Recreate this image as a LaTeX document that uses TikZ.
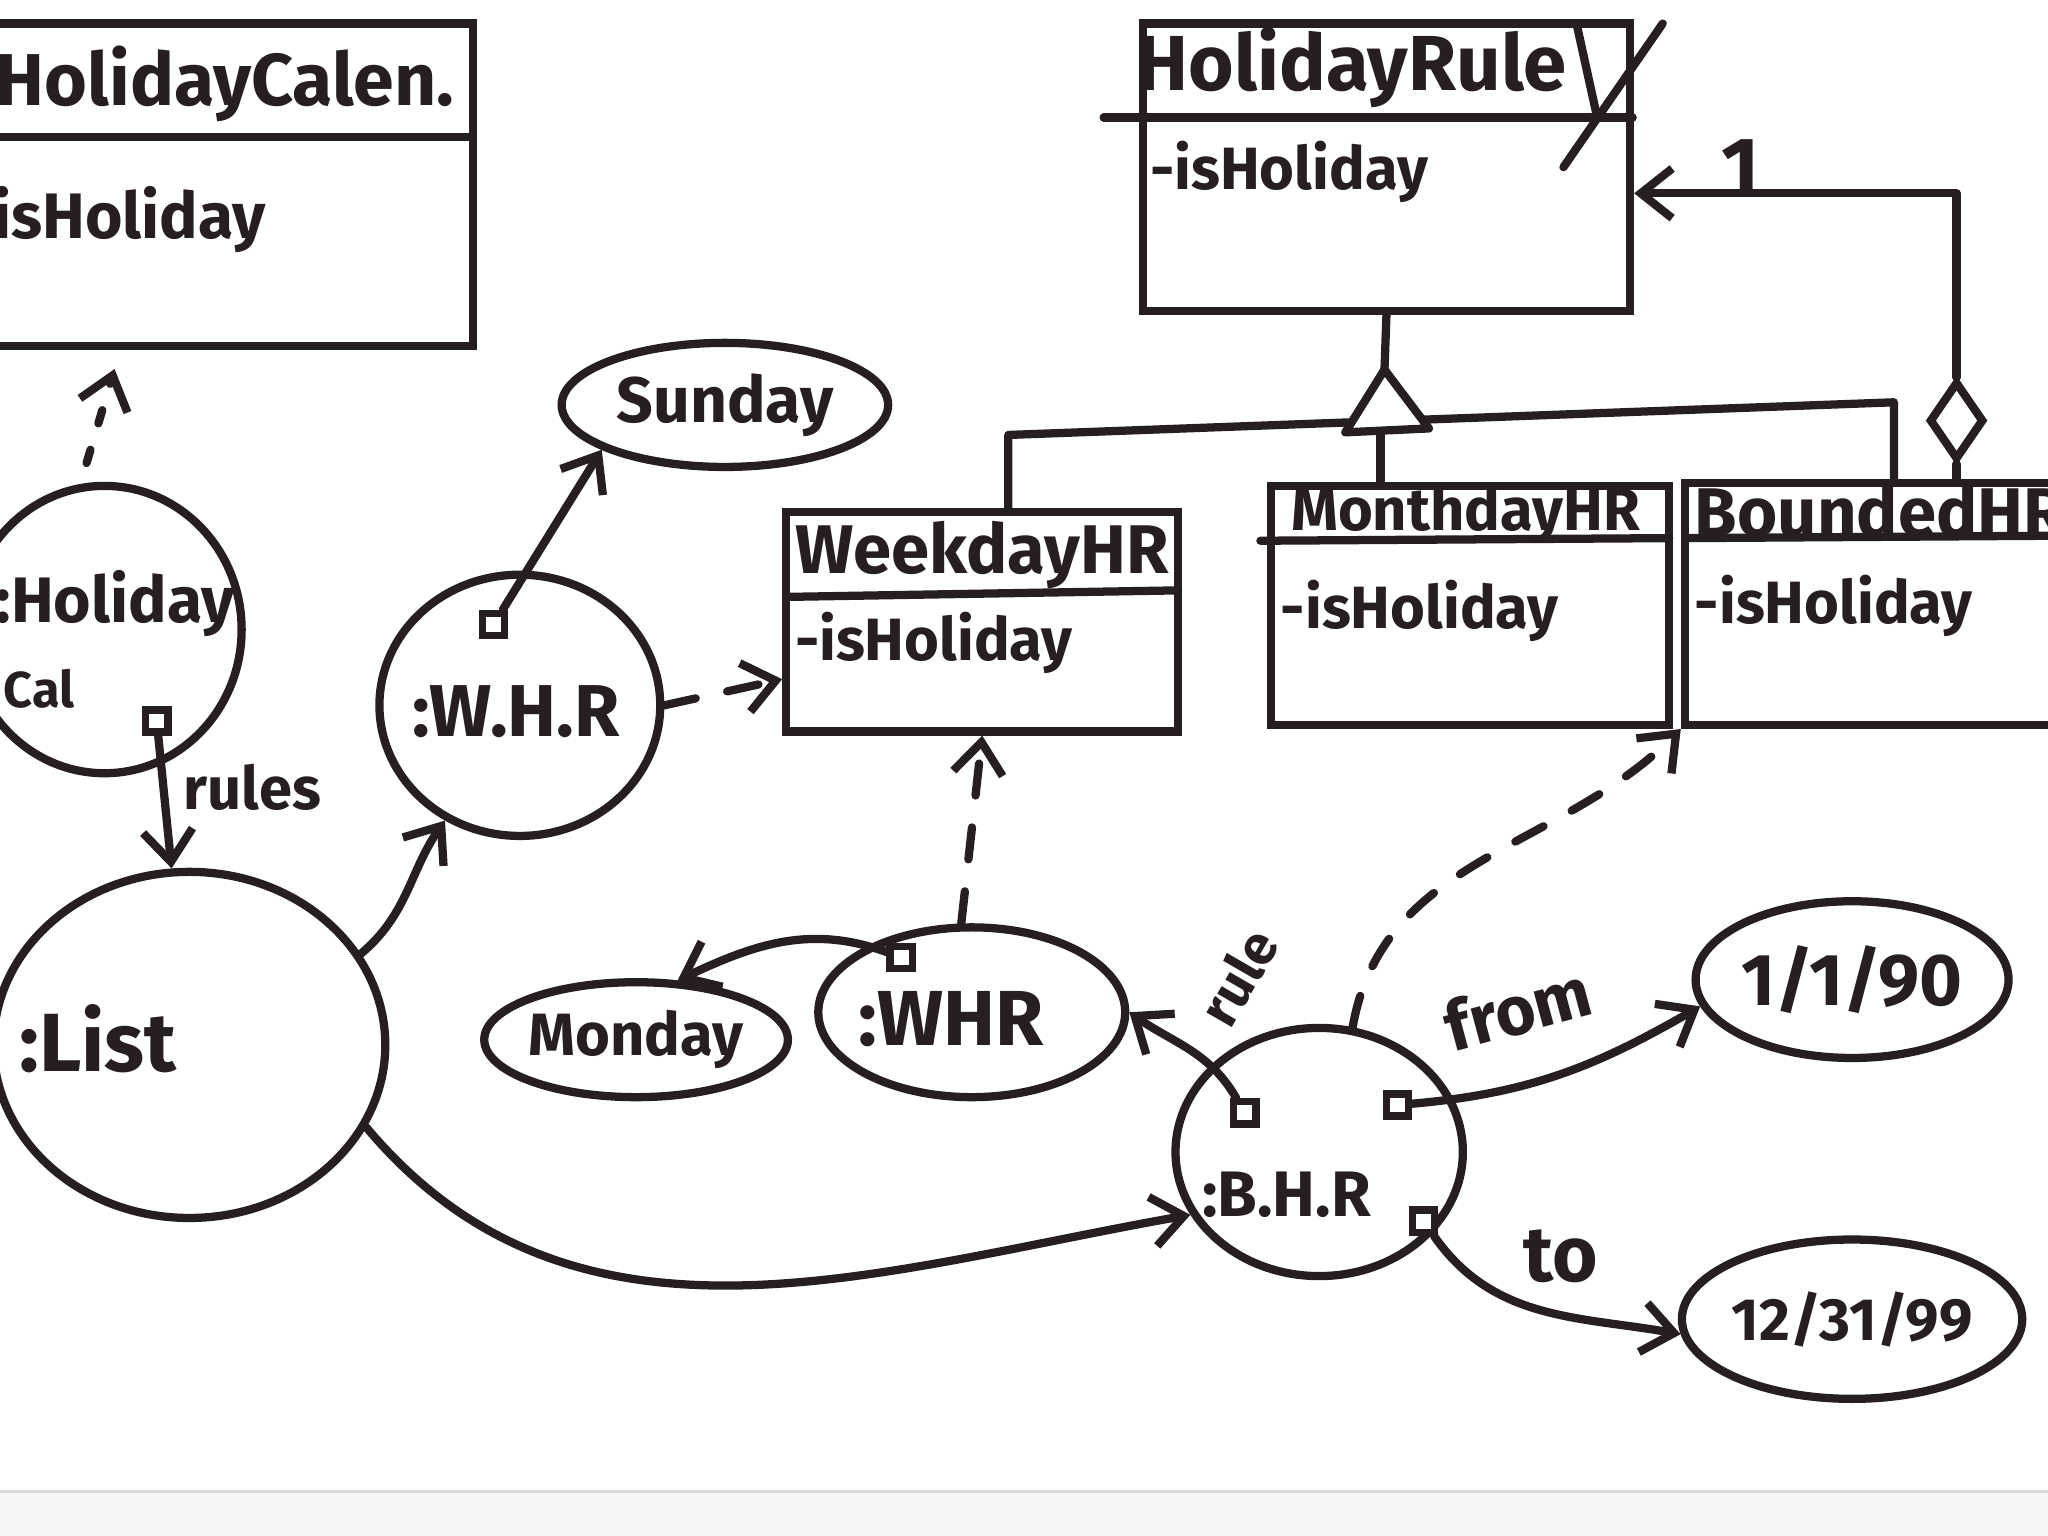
\documentclass[tikz,border=0pt]{standalone}
\usepackage{fontspec}
\setmainfont{Fira Sans}
\usetikzlibrary{shapes.geometric,arrows.meta}
\definecolor{ink}{RGB}{38,30,34}
\newcommand\myfs[1]{\fontsize{#1}{#1}\selectfont}
\begin{document}
\begin{tikzpicture}[x=0.1mm,y=-0.1mm,
  pen/.style={draw=ink,line width=1.8pt,line cap=round,line join=round},
  cls/.style={rectangle,draw=ink,line width=1.8pt,inner sep=0pt},
  obj/.style={ellipse,draw=ink,line width=1.8pt,inner sep=0pt,text=ink},
  port/.style={rectangle,draw=ink,line width=1.6pt,fill=white,minimum size=1.7mm,inner sep=0pt},
  txt/.style={text=ink,inner sep=0pt},
  nav/.style={pen,-{Straight Barb[length=2.4mm,width=3.8mm]}},
  dep/.style={nav,dash pattern=on 7pt off 7pt},
  dotd/.style={nav,dash pattern=on 3pt off 6pt},
  font=\bfseries
]
\useasboundingbox (0,0) rectangle (1568,1176);
\clip (0,0) rectangle (1568,1176);
\fill[white] (0,0) rectangle (1568,1176);
\fill[black!4] (0,1142) rectangle (1568,1176);
\draw[black!15,line width=0.8pt] (0,1142) -- (1568,1142);

\coordinate (c92) at (92,0);
% ---------- class boxes ----------
\node[cls,minimum width=38.2mm,minimum height=24.7mm] (calbox) at (171,141.5) {};
\draw[pen] (-20,105) -- (362,105);
\node[txt,anchor=west,font=\bfseries\myfs{16}] (calt) at (-4,64) {HolidayCalen.};
\node[txt,anchor=west,font=\bfseries\myfs{14}] (cala) at (-6,168) {isHoliday};

\node[cls,minimum width=37.3mm,minimum height=22mm] (rulebox) at (1061.5,128) {};
\draw[pen] (845,90) -- (1250,90);
\node[txt,font=\bfseries\myfs{17}] (rulet) at (1035,52) {HolidayRule};
\draw[pen] (1207,18) -- (1222,86);
\draw[pen] (1273,18) -- (1197,128);
\node[txt,anchor=west,font=\bfseries\myfs{13}] (rulea) at (880,132) {-isHoliday};

\node[cls,minimum width=30mm,minimum height=16.8mm] (weekday) at (752,476) {};
\draw[pen] (602,457) -- (902,452);
\node[txt,font=\bfseries\myfs{15}] (weekt) at (752,425) {WeekdayHR};
\node[txt,anchor=west,font=\bfseries\myfs{13}] (weeka) at (608,492) {-isHoliday};

\node[cls,minimum width=30.5mm,minimum height=18.3mm] (monthday) at (1125.5,463.5) {};
\draw[pen] (965,414) -- (1278,412);
\node[txt,font=\bfseries\myfs{13}] (montht) at (1122,394) {MonthdayHR};
\node[txt,anchor=west,font=\bfseries\myfs{13}] (montha) at (980,468) {-isHoliday};

\node[cls,minimum width=31mm,minimum height=18.5mm] (bounded) at (1445,462.5) {};
\draw[pen] (1290,412) -- (1600,410);
\node[txt,anchor=west,font=\bfseries\myfs{15}] (boundt) at (1297,391) {BoundedHR};
\node[txt,anchor=west,font=\bfseries\myfs{13}] (bounda) at (1297,464) {-isHoliday};

% ---------- generalization ----------
\coordinate (tri) at (1060,283);
\coordinate (tribase) at (1057,330);
\draw[pen] (rulebox.south) -- (tri);
\draw[pen] ([xshift=2mm]weekday.north) -- (772,333) -- (1450,308) -- ([xshift=0.5mm]bounded.north);
\draw[pen] (tribase) -- (tribase |- monthday.north);
\draw[pen,fill=white] (tri) -- (1030,331) -- (1094,328) -- cycle;

% ---------- aggregation ----------
\node[diamond,draw=ink,line width=1.8pt,fill=white,minimum width=4.2mm,minimum height=6mm,inner sep=0pt,aspect=0.7] (dia) at (1498,322) {};
\draw[pen] (dia.south) -- (dia.south |- bounded.north);
\draw[nav] (dia.north) |- ([yshift=-2mm]rulebox.east);
\node[txt,font=\bfseries\myfs{18}] (one) at (1333,128) {1};

% ---------- objects ----------
\node[obj,minimum width=21mm,minimum height=22mm] (hcal) at (80,482) {};
\node[txt,anchor=west,font=\bfseries\myfs{14}] (hcalt) at (-4,462) {:Holiday};
\node[txt,anchor=west,font=\bfseries\myfs{11}] (hcalt2) at (2,527) {Cal};
\node[port] (hcalp) at (120,552) {};

\node[obj,minimum width=30mm,minimum height=26.5mm] (list) at (145,800) {};
\node[txt,font=\bfseries\myfs{18}] (listt) at (75,795) {:List};

\node[obj,minimum width=21.5mm,minimum height=20mm] (whr1) at (398,540) {};
\node[txt,font=\bfseries\myfs{16}] (whr1t) at (395,545) {:W.H.R};
\node[port] (whr1p) at (378,478) {};

\node[obj,minimum width=25mm,minimum height=9.5mm,font=\bfseries\myfs{14}] (sunday) at (555,310) {Sunday};
\node[obj,minimum width=20.5mm,minimum height=8.8mm,font=\bfseries\myfs{13}] (monday) at (487,796) {Monday};

\node[obj,minimum width=23.5mm,minimum height=13mm] (whr2) at (744,775) {};
\node[txt,font=\bfseries\myfs{17}] (whr2t) at (728,780) {:WHR};
\node[port] (whr2p) at (690,733) {};

\node[obj,minimum width=22mm,minimum height=19mm] (bhr) at (1010,882) {};
\node[txt,font=\bfseries\myfs{14}] (bhrt) at (985,915) {:B.H.R};
\node[port] (bhrp1) at (953,852) {};
\node[port] (bhrp2) at (1070,846) {};
\node[port] (bhrp3) at (1090,935) {};

\node[obj,minimum width=23mm,minimum height=12mm,font=\bfseries\myfs{16}] (d1) at (1418,750) {1/1/90};
\node[obj,minimum width=22.5mm,minimum height=12.2mm,font=\bfseries\myfs{13}] (d2) at (1418,1010) {12/31/99};

% ---------- connectors ----------
\draw[dotd,shorten <=1.5mm,shorten >=1.5mm] ([xshift=-1.8mm]hcal.north) -- (calbox.south -| c92);
\draw[nav] (hcalp) -- (list);
\node[txt,anchor=west,font=\bfseries\myfs{13}] (rules) at (140,603) {rules};
\draw[nav] (list.28) to[out=40,in=235] (whr1.237);
\draw[nav] (whr1p) -- (sunday.200);
\draw[dep] (whr1.east) -- ([yshift=-4.4mm]weekday.west);
\draw[dep] ([xshift=-0.8mm]whr2.north) -- (weekday.south);
\draw[nav] (whr2p) to[out=160,in=25] (monday.55);
\draw[nav] (bhrp1) to[out=120,in=-35] (whr2.east);
\node[txt,rotate=60,font=\bfseries\myfs{12}] (rulel) at (948,748) {rule};
\draw[dep] (bhr.75) to[out=80,in=225] (bounded.south west);
\draw[nav] (bhrp2) to[out=5,in=210] (d1.190);
\node[txt,rotate=15,font=\bfseries\myfs{15}] (froml) at (1162,772) {from};
\draw[nav] (bhrp3) to[out=-55,in=170] (d2.185);
\node[txt,font=\bfseries\myfs{17}] (tol) at (1195,962) {to};
\draw[nav] (list.-25) to[out=-50,in=190] (bhr.206);
\end{tikzpicture}
\end{document}
